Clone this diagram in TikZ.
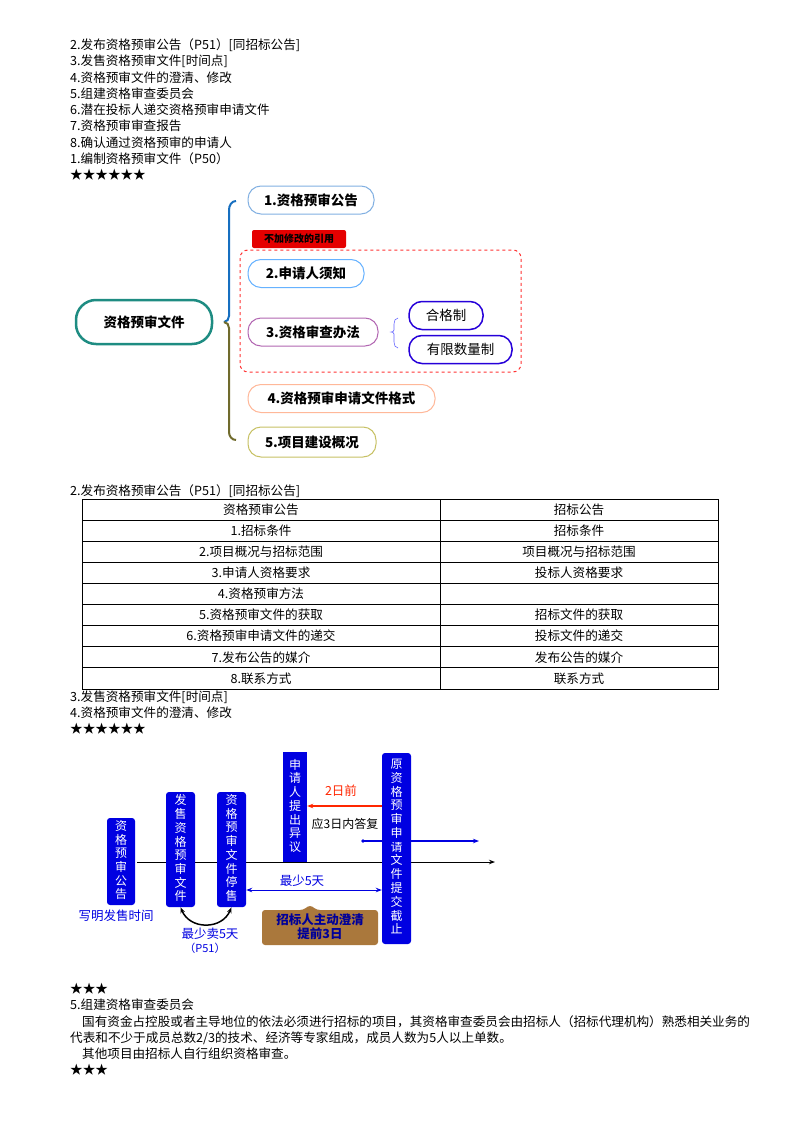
\documentclass[tikz,border=0pt]{standalone}
\usepackage{fontspec}
\setmainfont{Noto Sans CJK SC}
\usetikzlibrary{positioning,arrows.meta}
\definecolor{tealc}{RGB}{30,140,130}
\definecolor{bluec}{RGB}{0,0,225}
\definecolor{brownc}{RGB}{170,120,60}
\tikzset{
  txt/.style={anchor=west,inner sep=0pt,font=\fontsize{12.6}{14}\selectfont},
  topic/.style={draw,rounded corners=13pt,line width=1pt,minimum height=28pt,inner sep=0pt,font=\fontsize{13.5}{15}\bfseries\selectfont},
  cell/.style={inner sep=0pt,font=\fontsize{12.6}{14}\selectfont},
  vbox/.style={fill=bluec,rounded corners=3pt,text=white,inner sep=0pt,font=\fontsize{12}{13.4}\selectfont,align=center},
}
\newcommand{\vchars}[1]{\renewcommand{\arraystretch}{0.92}\begin{tabular}{@{}c@{}}#1\end{tabular}}
\begin{document}
\begin{tikzpicture}[x=1pt,y=-1pt]
\useasboundingbox (0,0) rectangle (800,1132);
\fill[white] (0,0) rectangle (800,1132);

% Lista inicial
\foreach \t [count=\i] in {2.发布资格预审公告（P51）[同招标公告],3.发售资格预审文件[时间点],4.资格预审文件的澄清、修改,5.组建资格审查委员会,6.潜在投标人递交资格预审申请文件,7.资格预审审查报告,8.确认通过资格预审的申请人,1.编制资格预审文件（P50）,★★★★★★}
  \node[txt] at (70,{45+16.2*(\i-1)}) {\t};

% Mapa mental
\node[topic,draw=tealc,line width=2.5pt,rounded corners=20pt,minimum width=136pt,minimum height=44pt] (root) at (144,322) {资格预审文件};
\draw[line width=2pt,cyan!50!blue] (236,201) to[out=180,in=90] (229,210) -- (229,316) to[out=-90,in=0] (224,322);
\draw[line width=2pt,olive!80!yellow!60!black] (224,322) to[out=0,in=90] (229,328) -- (229,432) to[out=-90,in=180] (236,440);
\node[topic,draw=cyan!60!blue!50,minimum width=126pt] (n1) at (311,200) {1.资格预审公告};
\draw[red!80!white,dashed,line width=1pt,rounded corners=8pt] (240,250) rectangle (521,372);
\node[fill=red!90!black,rounded corners=2pt,minimum width=94pt,minimum height=18pt,inner sep=0pt,font=\fontsize{10}{11}\bfseries\selectfont] (tag) at (299,239) {不加修改的引用};
\node[topic,draw=blue!50!cyan!60,minimum width=116pt] (n2) at (306,273.5) {2.申请人须知};
\node[topic,draw=violet!60,minimum width=130pt] (n3) at (313,332) {3.资格审查办法};
\node[topic,draw=blue!70!violet,line width=1.5pt,font=\fontsize{13.5}{15}\selectfont,minimum width=74pt] (q1) at (446,315.5) {合格制};
\node[topic,draw=blue!70!violet,line width=1.5pt,font=\fontsize{13.5}{15}\selectfont,minimum width=103pt] (q2) at (460.5,349.5) {有限数量制};
\draw[blue!60,line width=0.6pt] (398,318) to[out=180,in=90] (394,324) -- (394,330) to[out=-90,in=0] (391,332) to[out=0,in=90] (394,334) -- (394,342) to[out=-90,in=180] (398,348);
\node[topic,draw=red!40!orange!40,minimum width=187pt] (n4) at (341.5,398.5) {4.资格预审申请文件格式};
\node[topic,draw=olive!50,minimum width=128pt,minimum height=30pt] (n5) at (312,442) {5.项目建设概况};

% Tabla
\node[txt] at (70,491) {2.发布资格预审公告（P51）[同招标公告]};
\draw[line width=1pt] (82,499) rectangle (718,689);
\draw[line width=0.8pt] (440,499) -- (440,689);
\foreach \i in {1,...,8} \draw[line width=0.8pt] (82,{499+\i*21.1}) -- (718,{499+\i*21.1});
\foreach \a/\b [count=\i] in {资格预审公告/招标公告,1.招标条件/招标条件,2.项目概况与招标范围/项目概况与招标范围,3.申请人资格要求/投标人资格要求,4.资格预审方法/{},5.资格预审文件的获取/招标文件的获取,6.资格预审申请文件的递交/投标文件的递交,7.发布公告的媒介/发布公告的媒介,8.联系方式/联系方式} {
  \node[cell] at (261,{499+21.1*(\i-0.5)}) {\a};
  \node[cell] at (579,{499+21.1*(\i-0.5)}) {\b};
}
\node[txt] at (70,697) {3.发售资格预审文件[时间点]};
\node[txt] at (70,713) {4.资格预审文件的澄清、修改};
\node[txt] at (70,729) {★★★★★★};

% Línea de tiempo
\coordinate (ax0) at (137,862);
\coordinate (ax1) at (495,862);
\draw[line width=1pt,-{Stealth[length=6pt]}] (ax0) -- (ax1);
\node[vbox,minimum width=28pt,minimum height=87pt] (b1) at (121,861.5) {\vchars{资\\格\\预\\审\\公\\告}};
\node[vbox,minimum width=29pt,minimum height=115pt] (b2) at (180.5,849.5) {\vchars{发\\售\\资\\格\\预\\审\\文\\件}};
\node[vbox,minimum width=29pt,minimum height=115pt] (b3) at (231.5,849.5) {\vchars{资\\格\\预\\审\\文\\件\\停\\售}};
\node[fill=bluec,text=white,inner sep=0pt,minimum width=24pt,minimum height=110pt,font=\fontsize{12}{13.6}\selectfont,align=center] (b4) at (295,807) {\vchars{申\\请\\人\\提\\出\\异\\议}};
\node[vbox,minimum width=29pt,minimum height=191pt] (b5) at (396.5,848.5) {\vchars{原\\资\\格\\预\\审\\申\\请\\文\\件\\提\\交\\截\\止}};
\draw[red!70!orange,line width=1.2pt,-{Stealth[length=6pt]}] (b5.west |- 0,806) -- (b4.east |- 0,806);
\node[text=red!70!orange,font=\fontsize{12.5}{14}\selectfont] (d2) at (341,791) {2日前};
\node[font=\fontsize{12}{14}\selectfont] (d3) at (345,824) {应3日内答复};
\coordinate (s0) at (363,841);
\coordinate (s1) at (479,841);
\fill[bluec] (s0) circle (1.8pt);
\draw[bluec,line width=1.2pt,-{Stealth[length=6pt]}] (s0) -- (s1);
\node[text=bluec,font=\fontsize{12.5}{14}\selectfont] (d5) at (302,881) {最少5天};
\draw[bluec,line width=1pt,{Stealth[length=6pt]}-{Stealth[length=6pt]}] (b3.east |- 0,890) -- (b5.west |- 0,890);
\node[text=bluec,font=\fontsize{12.5}{14}\selectfont] (wm) at (116,916) {写明发售时间};
\draw[line width=1.5pt,{Stealth[length=6pt]}-{Stealth[length=6pt]}] (b2.south) .. controls (190,930) and (222,930) .. (b3.south);
\node[text=bluec,font=\fontsize{12.5}{14}\selectfont] (m5) at (210,934) {最少卖5天};
\node[text=bluec,font=\fontsize{11}{12}\selectfont] (p51) at (205,948) {（P51）};
\fill[brownc,rounded corners=3pt] (262,910) -- (303,910) -- (310,905) -- (317,910) -- (378,910) -- (378,945) -- (262,945) -- cycle;
\node[text=blue!60!black,font=\fontsize{12.5}{14}\bfseries\selectfont,align=center] (zc) at (320,927) {招标人主动澄清\\提前3日};

% Texto final
\node[txt] at (70,989) {★★★};
\node[txt] at (70,1005) {5.组建资格审查委员会};
\node[txt] at (82,1022) {国有资金占控股或者主导地位的依法必须进行招标的项目，其资格审查委员会由招标人（招标代理机构）熟悉相关业务的};
\node[txt] at (70,1038) {代表和不少于成员总数2/3的技术、经济等专家组成，成员人数为5人以上单数。};
\node[txt] at (82,1054) {其他项目由招标人自行组织资格审查。};
\node[txt] at (70,1070) {★★★};
\end{tikzpicture}
\end{document}
